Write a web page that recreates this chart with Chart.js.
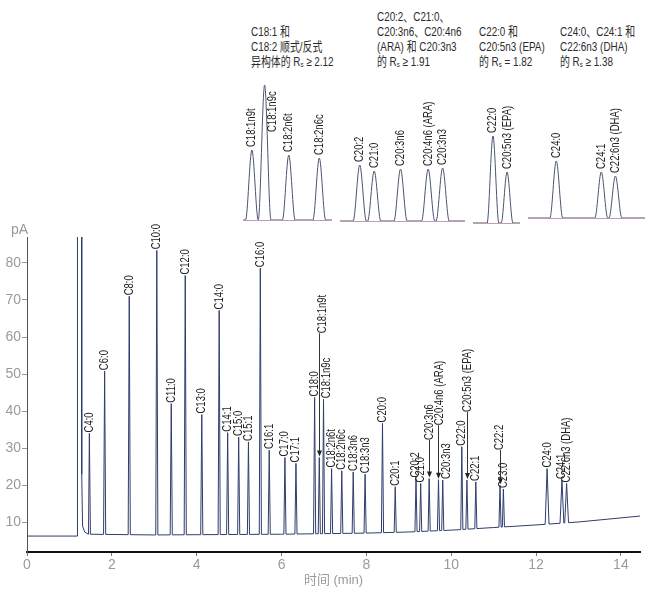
<!DOCTYPE html>
<html>
<head>
<meta charset="utf-8">
<script src="https://cdn.jsdelivr.net/npm/chart.js@4.4.0/dist/chart.umd.min.js"></script>
<style>
  body { margin: 0; width: 650px; height: 593px; position: relative; background: #fff; overflow: hidden;
         font-family: "Liberation Sans", Arial, "Noto Sans CJK SC", sans-serif; }
  canvas { position: absolute; }
  .note { position: absolute; font-size: 13px; line-height: 15px; color: #2b2b2b; white-space: nowrap;
          transform: scaleX(0.76); transform-origin: 0 0; }
  .note sub { font-size: 8px; line-height: 0; vertical-align: -1px; }
</style>
</head>
<body>
<div class="note" style="left:251px;top:24px">C18:1 和<br>C18:2 顺式/反式<br>异构体的 R<sub>s</sub> ≥ 2.12</div>
<div class="note" style="left:377px;top:9px">C20:2、C21:0、<br>C20:3n6、C20:4n6<br>(ARA) 和 C20:3n3<br>的 R<sub>s</sub> ≥ 1.91</div>
<div class="note" style="left:479px;top:24px">C22:0 和<br>C20:5n3 (EPA)<br>的 R<sub>s</sub> = 1.82</div>
<div class="note" style="left:560px;top:24px">C24:0、C24:1 和<br>C22:6n3 (DHA)<br>的 R<sub>s</sub> ≥ 1.38</div>

<canvas id="main" width="650" height="373" style="left:0;top:220px"></canvas>
<canvas id="inset1" width="89" height="155" style="left:243px;top:70px"></canvas>
<canvas id="inset2" width="125" height="155" style="left:340px;top:71px"></canvas>
<canvas id="inset3" width="47" height="155" style="left:473px;top:73px"></canvas>
<canvas id="inset4" width="117" height="155" style="left:528px;top:68px"></canvas>

<script>
// ---- main chromatogram (time in min, signal in pA) ----
const peakNames = ['C4:0', 'C6:0', 'C8:0', 'C10:0', 'C11:0', 'C12:0', 'C13:0', 'C14:0', 'C14:1', 'C15:0',
  'C15:1', 'C16:0', 'C16:1', 'C17:0', 'C17:1', 'C18:0', 'C18:1n9t', 'C18:1n9c', 'C18:2n6t', 'C18:2n6c',
  'C18:3n6', 'C18:3n3', 'C20:0', 'C20:1', 'C20:2', 'C21:0', 'C20:3n6', 'C20:4n6 (ARA)', 'C20:3n3', 'C22:0',
  'C20:5n3 (EPA)', 'C22:1', 'C22:2', 'C23:0', 'C24:0', 'C24:1', 'C22:6n3 (DHA)'];
const peakTimes = [1.47, 1.83, 2.41, 3.06, 3.40, 3.73, 4.12, 4.53, 4.73, 4.99,
  5.22, 5.50, 5.71, 6.08, 6.34, 6.78, 6.89, 6.99, 7.18, 7.42,
  7.69, 7.97, 8.38, 8.68, 9.17, 9.28, 9.48, 9.70, 9.80, 10.25,
  10.37, 10.58, 11.15, 11.23, 12.26, 12.61, 12.72];
const peakHeights = [34.0, 50.8, 71.0, 83.4, 42.0, 76.6, 39.1, 67.2, 34.2, 33.0,
  31.7, 78.6, 29.5, 27.5, 25.9, 43.7, 27.5, 43.2, 24.5, 23.9,
  23.6, 23.0, 36.7, 19.6, 21.8, 20.5, 21.8, 21.5, 21.4, 30.4,
  21.4, 20.9, 20.0, 19.0, 24.5, 21.4, 20.5];

const baseTimes = [0, 1.19, 1.45, 3, 6, 8, 9, 10, 11, 12, 13, 14.45];
const baseValues = [6.3, 6.3, 6.8, 6.6, 6.8, 7.1, 7.4, 7.9, 8.6, 9.3, 10.1, 11.7];

const solventTimes = [1.19, 1.19, 1.28, 1.29, 1.31, 1.36, 1.45];
const solventValues = [6.3, 400, 400, 23, 9, 7.4, 6.8];

const xTicks = [0, 2, 4, 6, 8, 10, 12, 14];
const yTicks = [10, 20, 30, 40, 50, 60, 70, 80];

// labels that sit higher with an arrow, or off to the side
const mainLabelStyle = {
  'C18:1n9t': { arrow: true, labelAt: 61, dx: 3 },
  'C18:1n9c': { dx: 3 },
  'C20:3n6': { arrow: true, labelAt: 32.2 },
  'C20:4n6 (ARA)': { arrow: true, labelAt: 36.2, dx: 1 },
  'C20:3n3': { dx: 4 },
  'C20:5n3 (EPA)': { arrow: true, labelAt: 39.8, dx: 1 },
  'C22:2': { arrow: true, labelAt: 29.5 }
};

// ---- zoomed insets (time in min, height above baseline) ----
const inset1Names = ['C18:1n9t', 'C18:1n9c', 'C18:2n6t', 'C18:2n6c'];
const inset1Times = [6.89, 6.99, 7.18, 7.42];
const inset1Heights = [70, 135, 65, 62];
const inset2Names = ['C20:2', 'C21:0', 'C20:3n6', 'C20:4n6 (ARA)', 'C20:3n3'];
const inset2Times = [9.17, 9.28, 9.48, 9.69, 9.80];
const inset2Heights = [56, 50, 52, 52, 53];
const inset3Names = ['C22:0', 'C20:5n3 (EPA)'];
const inset3Times = [10.25, 10.37];
const inset3Heights = [87, 51];
const inset4Names = ['C24:0', 'C24:1', 'C22:6n3 (DHA)'];
const inset4Times = [12.26, 12.61, 12.72];
const inset4Heights = [57, 46, 42];

function baseAt(t) {
  for (let i = 1; i < baseTimes.length; i++) {
    if (t <= baseTimes[i]) {
      const f = (t - baseTimes[i - 1]) / (baseTimes[i] - baseTimes[i - 1]);
      return baseValues[i - 1] + f * (baseValues[i] - baseValues[i - 1]);
    }
  }
  return baseValues[baseValues.length - 1];
}

function halfWidth(t) { return t > 12 ? 0.045 : 0.025; }

// build the trace: baseline + solvent front + one narrow spike per peak
const trace = [];
baseTimes.forEach((t, i) => {
  const inSolvent = t >= solventTimes[0] && t <= solventTimes[solventTimes.length - 1];
  const inPeak = peakTimes.some(p => Math.abs(t - p) <= halfWidth(p));
  if (!inSolvent && !inPeak) trace.push({ x: t, y: baseValues[i] });
});
solventTimes.forEach((t, i) => trace.push({ x: t, y: solventValues[i] }));
peakTimes.forEach((t, i) => {
  const w = halfWidth(t);
  trace.push({ x: t - w, y: baseAt(t - w) }, { x: t, y: peakHeights[i] }, { x: t + w, y: baseAt(t + w) });
});
trace.sort((a, b) => a.x - b.x);

// rotated peak names above each peak
const peakLabels = {
  id: 'peakLabels',
  afterDatasetsDraw(chart, args, o) {
    const { ctx } = chart;
    const x = chart.scales.x, y = chart.scales.y;
    ctx.save();
    ctx.font = o.size + 'px "Liberation Sans", Arial, sans-serif';
    ctx.fillStyle = '#222';
    ctx.strokeStyle = '#333';
    ctx.lineWidth = 1;
    o.names.forEach((name, i) => {
      const st = o.style[name] || {};
      const px = x.getPixelForValue(o.times[i]);
      const top = y.getPixelForValue(o.heights[i]);
      const lab = st.labelAt !== undefined ? y.getPixelForValue(st.labelAt) : top - o.gap;
      if (st.arrow) {
        const ax = Math.round(px) + 0.5;
        ctx.beginPath();
        ctx.moveTo(ax, lab);
        ctx.lineTo(ax, top - 5);
        ctx.stroke();
        ctx.beginPath();
        ctx.moveTo(ax, top - 1);
        ctx.lineTo(ax - 2.5, top - 7);
        ctx.lineTo(ax + 2.5, top - 7);
        ctx.closePath();
        ctx.fill();
      }
      ctx.save();
      ctx.translate(px + (st.dx || 0), lab);
      ctx.rotate(-Math.PI / 2);
      ctx.scale(0.76, 1);
      ctx.textAlign = 'left';
      ctx.textBaseline = 'middle';
      ctx.fillText(name, 0, 0);
      ctx.restore();
    });
    ctx.restore();
  }
};

const axisText = {
  id: 'axisText',
  afterDraw(chart) {
    const { ctx, chartArea: a } = chart;
    ctx.save();
    ctx.fillStyle = '#9a9a9a';
    ctx.font = '14px "Liberation Sans", Arial, sans-serif';
    ctx.textAlign = 'left';
    ctx.textBaseline = 'middle';
    ctx.fillText('pA', 11, a.top - 7);
    ctx.font = '13px "Liberation Sans", Arial, "Noto Sans CJK SC", sans-serif';
    ctx.textAlign = 'center';
    ctx.fillText('时间 (min)', (a.left + a.right) / 2, a.bottom + 28);
    ctx.restore();
  }
};

new Chart(document.getElementById('main'), {
  type: 'line',
  data: {
    datasets: [{
      data: trace,
      borderColor: '#2f3d6b',
      borderWidth: 1,
      pointRadius: 0,
      tension: 0
    }]
  },
  options: {
    responsive: false,
    animation: false,
    layout: { padding: { top: 17, right: 10, left: 0, bottom: 0 } },
    plugins: {
      legend: { display: false },
      tooltip: { enabled: false },
      peakLabels: { names: peakNames, times: peakTimes, heights: peakHeights, style: mainLabelStyle, size: 12.5, gap: 1 }
    },
    scales: {
      x: {
        type: 'linear', min: 0, max: 14.45,
        afterBuildTicks: s => { s.ticks = xTicks.map(v => ({ value: v })); },
        afterFit: s => { s.height = 41; },
        ticks: { color: '#9a9a9a', font: { size: 14 }, padding: 1, maxRotation: 0, autoSkip: false },
        grid: { drawOnChartArea: false, drawTicks: true, tickLength: 4, color: '#777' },
        border: { color: '#111', width: 2 }
      },
      y: {
        min: 2, max: 87,
        afterBuildTicks: s => { s.ticks = yTicks.map(v => ({ value: v })); },
        afterFit: s => { s.width = 27; },
        ticks: { color: '#9a9a9a', font: { size: 14 }, padding: 1 },
        grid: { drawOnChartArea: false, drawTicks: true, tickLength: 5, color: '#999' },
        border: { color: '#555', width: 1 }
      }
    }
  },
  plugins: [peakLabels, axisText]
});

// ---- insets ----
const insetLabelStyle = { 'C18:1n9c': { dx: 8, labelAt: 88 } };

function makeInset(id, names, times, heights, min, max) {
  const pts = [{ x: min, y: 0 }];
  times.forEach((t, i) => pts.push({ x: t - 0.05, y: 0 }, { x: t, y: heights[i] }, { x: t + 0.05, y: 0 }));
  pts.push({ x: max, y: 0 });
  pts.sort((a, b) => a.x - b.x);
  return new Chart(document.getElementById(id), {
    type: 'line',
    data: {
      datasets: [{
        data: pts, borderColor: '#4a5470', borderWidth: 1, pointRadius: 0,
        cubicInterpolationMode: 'monotone'
      }]
    },
    options: {
      responsive: false,
      animation: false,
      layout: { padding: { top: 0, right: 0, left: 0, bottom: 3 } },
      plugins: {
        legend: { display: false },
        tooltip: { enabled: false },
        peakLabels: { names, times, heights, style: insetLabelStyle, size: 12.5, gap: 3 }
      },
      scales: {
        x: {
          type: 'linear', min, max,
          afterFit: s => { s.height = 2; },
          ticks: { display: false },
          grid: { display: false, drawTicks: false },
          border: { color: '#c29ab2', width: 1 }
        },
        y: { display: false, min: 0, max: 150 }
      }
    },
    plugins: [peakLabels]
  });
}

makeInset('inset1', inset1Names, inset1Times, inset1Heights, 6.82, 7.52);
makeInset('inset2', inset2Names, inset2Times, inset2Heights, 9.02, 9.97);
makeInset('inset3', inset3Names, inset3Times, inset3Heights, 10.08, 10.48);
makeInset('inset4', inset4Names, inset4Times, inset4Heights, 12.04, 12.95);
</script>
</body>
</html>
